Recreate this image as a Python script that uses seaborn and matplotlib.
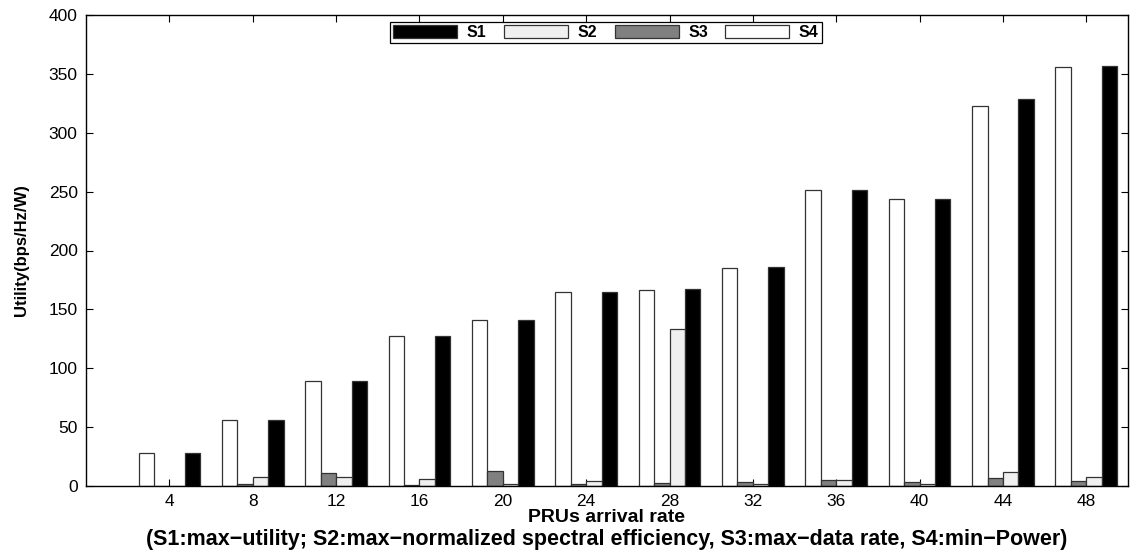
import matplotlib
matplotlib.use("Agg")
import matplotlib.pyplot as plt
import seaborn as sns
import pandas as pd
from matplotlib.patches import Patch

rates = [4, 8, 12, 16, 20, 24, 28, 32, 36, 40, 44, 48]
s1 = [28, 56, 89, 127.5, 141, 165, 167, 186, 251, 243.5, 329, 357]
s2 = [0.3, 8, 8, 6, 2, 4.5, 133, 2, 5, 2, 12, 8]
s3 = [0.3, 1.5, 11, 1, 12.5, 2, 2.5, 3.5, 5, 3.5, 6.5, 4.5]
s4 = [28, 56, 89, 127.5, 141, 165, 166.5, 185.5, 251, 243.5, 323, 356]
series = ["S1", "S2", "S3", "S4"]
colors = {"S1": "#000000", "S2": "#f0f0f0", "S3": "#808080", "S4": "#ffffff"}

rows = []
for name, vals in zip(series, [s1, s2, s3, s4]):
    for r, v in zip(rates, vals):
        rows.append({"rate": str(r), "series": name, "value": v})
df = pd.DataFrame(rows)

sns.set_theme(style="white")
plt.rcParams['font.family'] = ['Liberation Sans', 'DejaVu Sans']
for k in ["text.color", "axes.labelcolor", "xtick.color", "ytick.color"]:
    plt.rcParams[k] = "black"

fig = plt.figure(figsize=(11.32, 5.5), dpi=100)
ax = fig.add_axes([86/1132, 64/550, 1042/1132, 471/550])

sns.barplot(data=df, x="rate", y="value", hue="series",
            order=[str(r) for r in rates], hue_order=["S4", "S3", "S2", "S1"],
            palette=colors, width=0.74, edgecolor="#333333", linewidth=0.9,
            saturation=1, ax=ax, legend=False)

ax.set_xlim(-1, 11.5)
ax.set_ylim(0, 400)
ax.set_yticks(range(0, 401, 50))
ax.tick_params(axis="both", direction="in", length=5, width=0.8,
               top=True, right=True, bottom=True, left=True,
               labelsize=12.5, colors="black", pad=6)
ax.tick_params(axis="x", pad=6)
for s in ax.spines.values():
    s.set_visible(True)
    s.set_color("black")
    s.set_linewidth(1.0)

ax.set_xlabel("")
ax.set_ylabel("Utility(bps/Hz/W)", fontsize=12, fontweight="bold", labelpad=14)
fig.text(607/1132, 1 - 517/550, "PRUs arrival rate",
         ha="center", va="center", fontsize=14, fontweight="bold")
fig.text(607/1132, 1 - 539/550,
         "(S1:max\u2212utility; S2:max\u2212normalized spectral efficiency, S3:max\u2212data rate, S4:min\u2212Power)",
         ha="center", va="center", fontsize=15.5, fontweight="bold")

handles = [Patch(facecolor=colors[s], edgecolor="#333333", linewidth=0.9) for s in series]
leg = ax.legend(handles, series, loc="upper center", bbox_to_anchor=(0.499, 0.985),
                ncol=4, frameon=True, fancybox=False, framealpha=1,
                edgecolor="black", handlelength=4.0, handleheight=0.85,
                columnspacing=1.1, handletextpad=0.6, borderpad=0.2,
                borderaxespad=0,
                prop={"weight": "bold", "size": 11.5})
leg.get_frame().set_linewidth(0.9)

fig.savefig("out.png", dpi=100)
